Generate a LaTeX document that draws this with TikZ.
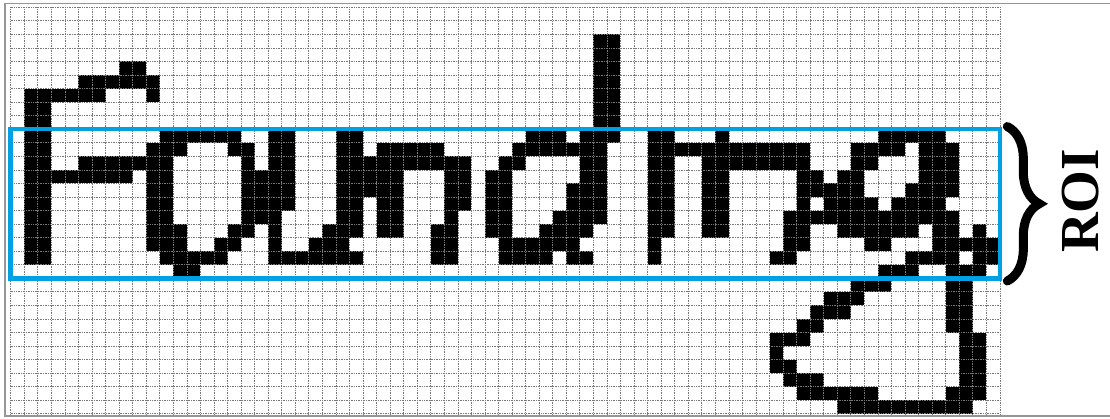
\documentclass[tikz,border=0pt]{standalone}
\usepackage{fontspec}
\setmainfont{Liberation Serif}
\usetikzlibrary{decorations.pathreplacing}
\definecolor{roiblue}{RGB}{0,160,227}
\definecolor{gridgray}{RGB}{120,120,120}
\definecolor{framegray}{RGB}{150,150,150}
\tikzset{
  cellfill/.style={fill=black},
  gridline/.style={draw=gridgray,line width=0.7pt,dash pattern=on 1pt off 0.7pt},
  roibox/.style={draw=roiblue,line width=4.5pt},
  framelines/.style={draw=framegray,line width=1.6pt},
  roibrace/.style={decorate,decoration={brace,amplitude=32pt,aspect=0.5},line width=9pt,line cap=round},
  roitext/.style={font=\fontsize{55}{55}\selectfont\bfseries,rotate=90,inner sep=0pt}
}
\newcommand\rowcells[2]{\foreach \cc in {#2}{\fill[cellfill] (\cc,#1) rectangle ++(1,1);}}
\begin{document}
\begin{tikzpicture}[x=1pt,y=-1pt]
\useasboundingbox (0,0) rectangle (1110,419);
\fill[white] (0,0) rectangle (1110,419);
\draw[framelines] (1110,3.5) -- (5,3.5) -- (5,416) -- (1110,416);
\begin{scope}[shift={(10.7,7.3)},x=13.55pt,y=-13.55pt]
\rowcells{2}{43,44}
\rowcells{3}{43,44}
\rowcells{4}{8,9,43,44}
\rowcells{5}{5,6,7,8,9,10,43,44}
\rowcells{6}{1,2,3,4,5,6,10,43,44}
\rowcells{7}{1,2,43,44}
\rowcells{8}{1,2,43,44}
\rowcells{9}{1,2,11,12,13,14,15,16,19,20,24,25,38,39,40,42,43,44,47,48,52,64,65,66,67,68}
\rowcells{10}{1,2,10,11,12,16,17,19,20,24,25,27,28,29,30,31,37,38,39,40,41,42,43,47,48,49,50,51,52,53,54,55,56,57,58,62,63,64,65,67,68,69}
\rowcells{11}{1,2,5,6,7,8,9,10,11,17,19,20,24,25,26,27,28,29,30,31,32,33,36,37,42,43,47,48,51,52,53,54,55,56,57,58,62,63,67,68,69}
\rowcells{12}{1,2,3,4,5,6,7,8,10,11,17,18,19,20,24,25,26,27,28,32,33,35,36,42,43,47,48,51,52,58,59,61,62,67,68,69}
\rowcells{13}{1,2,10,11,17,18,19,20,24,25,26,27,28,32,33,35,36,41,42,43,47,48,51,52,58,59,60,61,62,66,67,68,69}
\rowcells{14}{1,2,10,11,17,18,19,20,24,25,27,28,32,33,35,36,41,42,43,47,48,51,52,58,60,61,62,63,65,66,67,68}
\rowcells{15}{1,2,10,11,17,18,19,24,25,27,28,32,35,36,40,41,42,43,47,48,51,52,57,58,59,60,61,62,63,64,65,66,67,68,69}
\rowcells{16}{1,2,10,11,12,16,17,19,23,24,25,27,28,31,32,35,36,39,40,41,42,47,48,51,52,57,58,61,62,63,64,65,66,68,69,71}
\rowcells{17}{1,2,10,11,12,15,16,19,22,23,24,31,32,36,37,38,39,40,41,47,57,58,63,64,68,69,70,71,72}
\rowcells{18}{1,2,11,12,13,14,15,19,20,21,22,23,24,25,31,32,36,37,38,39,41,42,47,56,57,66,67,68,69,71,72}
\rowcells{19}{12,13,64,65,66,69,70,71}
\rowcells{20}{62,63,64,69,70}
\rowcells{21}{60,61,62,69,70}
\rowcells{22}{59,60,61,69,70}
\rowcells{23}{58,59,69,70}
\rowcells{24}{56,57,58,70,71}
\rowcells{25}{56,70,71}
\rowcells{26}{56,57,70,71}
\rowcells{27}{57,58,59,70,71}
\rowcells{28}{58,59,60,61,62,63,69,70,71}
\rowcells{29}{61,62,63,64,65,66,67,68,69,70}
\foreach \i in {0,...,73} {\draw[gridline] (\i,0) -- (\i,30);}
\foreach \j in {0,...,30} {\draw[gridline] (0,\j) -- (73,\j);}
\draw[roibox] (0,9) rectangle (73,20);
\coordinate (bracetop) at (73.55,8.8);
\coordinate (bracebot) at (73.55,20.2);
\end{scope}
\draw[roibrace] (bracetop) -- (bracebot);
\node[roitext] (roi) at (1081,201) {ROI};
\end{tikzpicture}
\end{document}
